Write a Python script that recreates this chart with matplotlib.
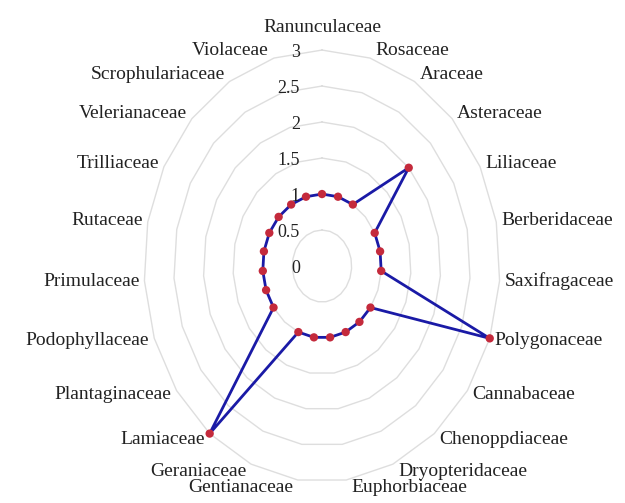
import numpy as np
import matplotlib.pyplot as plt

families = ["Ranunculaceae", "Rosaceae", "Araceae", "Asteraceae", "Liliaceae",
            "Berberidaceae", "Saxifragaceae", "Polygonaceae", "Cannabaceae",
            "Chenoppdiaceae", "Dryopteridaceae", "Euphorbiaceae", "Gentianaceae",
            "Geraniaceae", "Lamiaceae", "Plantaginaceae", "Podophyllaceae",
            "Primulaceae", "Rutaceae", "Trilliaceae", "Velerianaceae",
            "Scrophulariaceae", "Violaceae"]
counts = [1, 1, 1, 2, 1, 1, 1, 3, 1, 1, 1, 1, 1, 1, 3, 1, 1, 1, 1, 1, 1, 1, 1]
ring_values = [0.5, 1, 1.5, 2, 2.5, 3]
ring_labels = ["0", "0.5", "1", "1.5", "2", "2.5", "3"]

plt.rcParams['font.family'] = ['Liberation Serif', 'DejaVu Serif']

n = len(families)
theta = np.arange(n) * 2 * np.pi / n
theta_c = np.append(theta, theta[0])
vals_c = np.append(counts, counts[0])

fig = plt.figure(figsize=(6.25, 5.03), dpi=100)
ax = fig.add_axes([0.2304, 0.0417, 0.5696, 0.8588], projection='polar')
ax.set_aspect('auto')  # the reference is squeezed sideways
ax.set_theta_zero_location('N')
ax.set_theta_direction(-1)
ax.set_ylim(0, 3)
ax.grid(False)
ax.spines['polar'].set_visible(False)
ax.set_xticks([])
ax.set_yticks([])

# polygon grid rings
for r in ring_values:
    ax.plot(theta_c, [r] * (n + 1), color='#dedede', lw=1.0, zorder=1, clip_on=False)

# the data
ax.plot(theta_c, vals_c, color='#1a1aa6', lw=2.0, zorder=3, clip_on=False)
ax.scatter(theta, counts, s=36, color='#c42a3c', zorder=4, edgecolors='none', clip_on=False)

# radial value labels
for i, lab in enumerate(ring_labels):
    ax.annotate(lab, xy=(0, i * 0.5), xytext=(-16, -2), textcoords='offset points',
                ha='right', va='center', fontsize=13, color='#222222')

# category labels
for t, name in zip(theta, families):
    s, c = np.sin(t), np.cos(t)
    if abs(s) < 1e-6:
        ha, dx, dy = 'center', 0, 16
    else:
        ha = 'left' if s > 0 else 'right'
        dx, dy = 3.6 * np.sign(s), 5.5 * c
    ax.annotate(name, xy=(t, 3), xytext=(dx, dy), textcoords='offset points',
                ha=ha, va='center', fontsize=14, color='#222222')

fig.savefig('out.png', dpi=100)
